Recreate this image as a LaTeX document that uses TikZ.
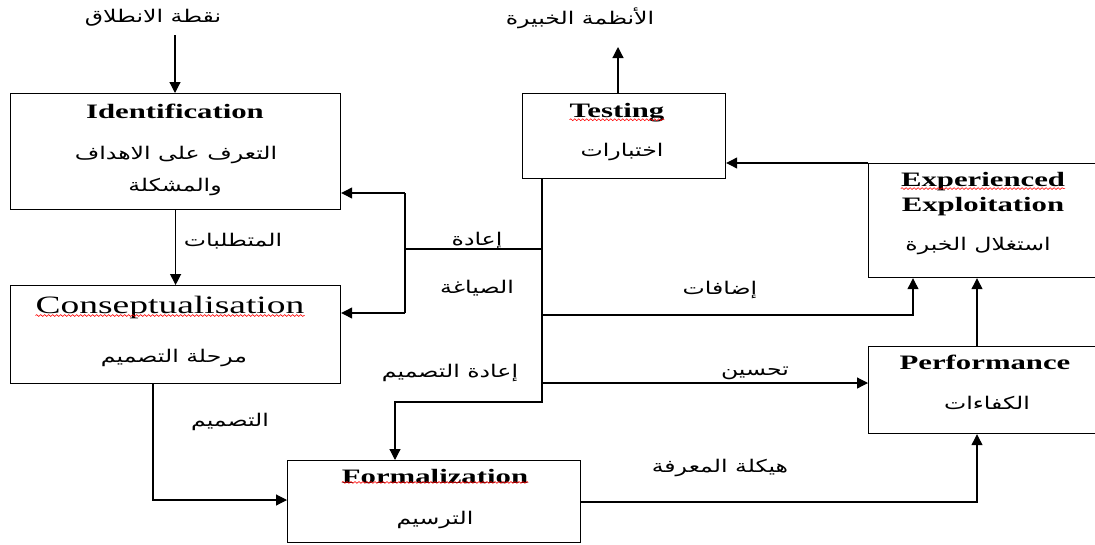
\documentclass[tikz,border=0pt]{standalone}
\usepackage{fontspec}
\setmainfont{Liberation Serif}
\newfontfamily\titlefont[FakeStretch=1.5]{Liberation Serif}
\newfontfamily\arabicfont[Script=Arabic,FakeStretch=1.35]{DejaVu Sans}
\TeXXeTstate=1
\usetikzlibrary{arrows.meta,decorations.pathmorphing}

\tikzset{
  stage/.style={draw, line width=1.2pt, inner sep=0pt, anchor=north west},
  title/.style={font=\titlefont\bfseries\fontsize{20.5}{24}\selectfont, inner sep=0pt, anchor=base},
  bigtitle/.style={font=\titlefont\fontsize{25}{29}\selectfont, inner sep=0pt, anchor=base},
  ar/.style={font=\arabicfont\fontsize{17.5}{20}\selectfont, inner sep=0pt},
  link/.style={line width=1.2pt},
  flow/.style={line width=1.2pt, -{Triangle[length=11pt,width=11pt]}},
  spellmark/.style={draw=red, line width=0.6pt, decorate,
    decoration={snake, amplitude=0.9pt, segment length=4pt}}
}

\begin{document}
\begin{tikzpicture}[x=1pt,y=-1pt]
\clip (0,0) rectangle (1095,544);
\fill[white] (0,0) rectangle (1095,544);

% stage boxes
\node[stage, minimum width=330pt, minimum height=116pt] (ident)   at (10,93)  {};
\node[stage, minimum width=330pt, minimum height=98pt]  (concept) at (10,285) {};
\node[stage, minimum width=203pt, minimum height=85pt]  (testing) at (522,93) {};
\node[stage, minimum width=230pt, minimum height=114pt] (exp)     at (868,163) {};
\node[stage, minimum width=230pt, minimum height=87pt]  (perf)    at (868,346) {};
\node[stage, minimum width=293pt, minimum height=82pt]  (form)    at (287,460) {};

% box contents
\node[title] (identT) at (175,118) {Identification};
\node[ar] (identA1) at (176,155) {\beginR التعرف على الاهداف\endR};
\node[ar] (identA2) at (175,187) {\beginR والمشكلة\endR};

\node[bigtitle] (conceptT) at (170,313) {Conseptualisation};
\node[ar] (conceptA) at (174,358) {\beginR مرحلة التصميم\endR};

\node[title] (testingT) at (617,117) {Testing};
\node[ar] (testingA) at (622,152) {\beginR اختبارات\endR};

\node[title] (expT1) at (983,186) {Experienced};
\node[title] (expT2) at (983,211) {Exploitation};
\node[ar] (expA) at (978,246) {\beginR استغلال الخبرة\endR};

\node[title] (perfT) at (985,369) {Performance};
\node[ar] (perfA) at (987,403) {\beginR الكفاءات\endR};

\node[title] (formT) at (435,483) {Formalization};
\node[ar] (formA) at (435,520) {\beginR الترسيم\endR};

% spell-check squiggles
\draw[spellmark] ([yshift=2pt]testingT.south west) -- ([yshift=2pt]testingT.south east);
\draw[spellmark] ([yshift=2pt]expT1.south west) -- ([yshift=2pt]expT1.south east);
\draw[spellmark] ([yshift=3pt]conceptT.south west) -- ([yshift=3pt]conceptT.south east);
\draw[spellmark] ([yshift=1pt]formT.south west) -- ([yshift=1pt]formT.south east);

% free labels
\node[ar] (startL)  at (153,18)  {\beginR نقطة الانطلاق\endR};
\node[ar] (sysL)    at (580,18)  {\beginR الأنظمة الخبيرة\endR};
\node[ar] (reqL)    at (233,241) {\beginR المتطلبات\endR};
\node[ar] (reL)     at (477,241) {\beginR إعادة\endR};
\node[ar] (formuL)  at (477,288) {\beginR الصياغة\endR};
\node[ar] (addL)    at (720,290) {\beginR إضافات\endR};
\node[ar] (redesL)  at (450,373) {\beginR إعادة التصميم\endR};
\node[ar] (impL)    at (755,373) {\beginR تحسين\endR};
\node[ar] (desL)    at (230,422) {\beginR التصميم\endR};
\node[ar] (knowL)   at (720,468) {\beginR هيكلة المعرفة\endR};

% routing points
\coordinate (start)  at (175,35);
\coordinate (sysout) at (618,47);
\coordinate (sp)     at (542,0);
\coordinate (rd)     at (395,402);
\coordinate (rf)     at (405,249);
\coordinate (rfTop)  at (405,193);
\coordinate (rfBot)  at (405,313);
\coordinate (ad)     at (913,315);
\coordinate (im)     at (0,383);
\coordinate (ds)     at (153,500);
\coordinate (kn)     at (977,502);

% connectors
\draw[flow] (start) -- (start |- ident.north);
\draw[flow] (ident.south) -- (concept.north);
\draw[flow] (sysout |- testing.north) -- (sysout);
\draw[flow] (exp.north west) -- (testing.east |- exp.north west);

\draw[flow] (sp |- testing.south) -- (sp |- rd) -- (rd) -- (rd |- form.north);
\draw[link] (sp |- rf) -- (rf);
\draw[link] (rfTop) -- (rfBot);
\draw[flow] (rfTop) -- (rfTop -| ident.east);
\draw[flow] (rfBot) -- (rfBot -| concept.east);

\draw[flow] (sp |- ad) -- (ad) -- (ad |- exp.south);
\draw[flow] (sp |- im) -- (im -| perf.west);
\draw[flow] (ds |- concept.south) -- (ds) -- (ds -| form.west);
\draw[flow] (kn -| form.east) -- (kn) -- (kn |- perf.south);
\draw[flow] (kn |- perf.north) -- (kn |- exp.south);
\end{tikzpicture}
\end{document}
